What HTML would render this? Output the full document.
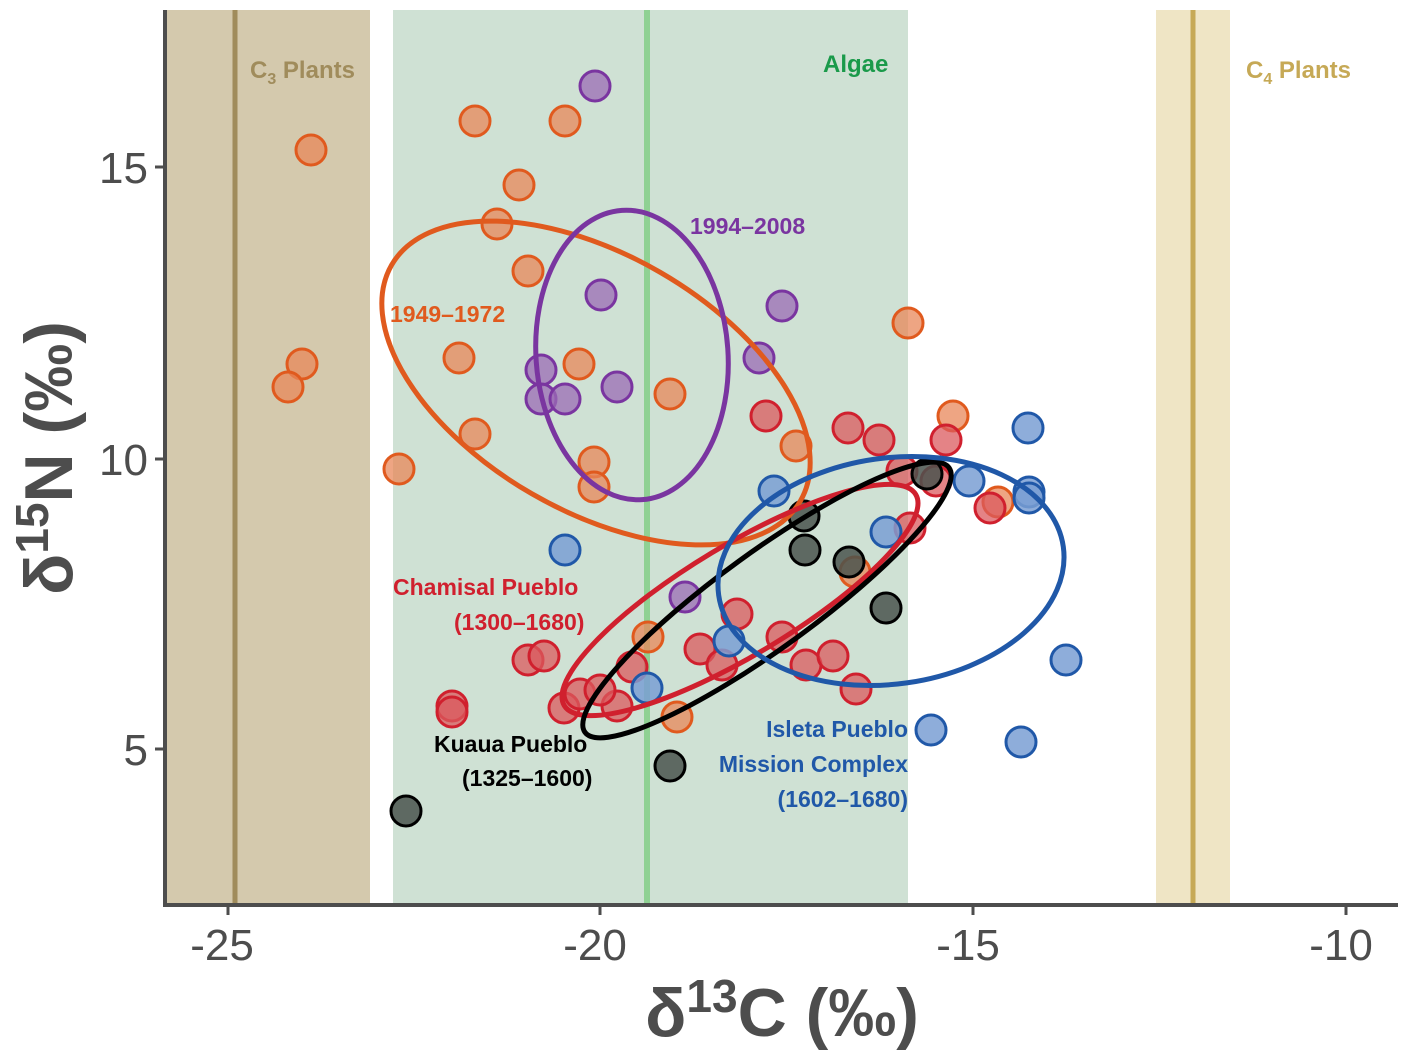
<!DOCTYPE html>
<html><head><meta charset="utf-8"><style>
html,body{margin:0;padding:0;background:#fff;}
svg{display:block;font-family:"Liberation Sans",Arial,sans-serif;}
</style></head><body>
<svg width="1411" height="1062" viewBox="0 0 1411 1062" xmlns="http://www.w3.org/2000/svg">
<rect x="0" y="0" width="1411" height="1062" fill="#fff"/>
<rect x="167" y="10" width="203" height="893" fill="#d4c9ad"/>
<line x1="235" y1="10" x2="235" y2="903" stroke="#a08c5c" stroke-width="5"/>
<rect x="393" y="10" width="515" height="893" fill="#cfe1d4"/>
<line x1="647" y1="10" x2="647" y2="903" stroke="#8fd193" stroke-width="6"/>
<rect x="1156" y="10" width="74" height="893" fill="#efe5c5"/>
<line x1="1193" y1="10" x2="1193" y2="903" stroke="#c6a956" stroke-width="5"/>
<text x="250" y="78" font-size="24" font-weight="bold" fill="#a08c5c">C<tspan font-size="16" dy="6">3</tspan><tspan dy="-6"> Plants</tspan></text>
<text x="823" y="72" font-size="24" font-weight="bold" fill="#1a9a4a">Algae</text>
<text x="1246" y="78" font-size="24" font-weight="bold" fill="#c6a956">C<tspan font-size="16" dy="6">4</tspan><tspan dy="-6"> Plants</tspan></text>

<g stroke-width="3">
<g fill="#e8875a" fill-opacity="0.75" stroke="#e05a1e">
<circle cx="311" cy="150" r="15"/><circle cx="475" cy="121" r="15"/><circle cx="565" cy="121" r="15"/><circle cx="519" cy="185" r="15"/><circle cx="497" cy="224" r="15"/><circle cx="528" cy="271" r="15"/><circle cx="459" cy="358" r="15"/><circle cx="302" cy="364" r="15"/><circle cx="288" cy="387" r="15"/><circle cx="579" cy="364" r="15"/><circle cx="670" cy="394" r="15"/><circle cx="475" cy="434" r="15"/><circle cx="399" cy="469" r="15"/><circle cx="594" cy="462" r="15"/><circle cx="594" cy="487" r="15"/><circle cx="796" cy="446" r="15"/><circle cx="908" cy="323" r="15"/><circle cx="953" cy="416" r="15"/><circle cx="998" cy="502" r="15"/><circle cx="855" cy="572" r="15"/><circle cx="648" cy="637" r="15"/><circle cx="677" cy="717" r="15"/>
</g>
<g fill="#9b6bb5" fill-opacity="0.75" stroke="#7a35a0">
<circle cx="595" cy="86" r="15"/><circle cx="601" cy="295" r="15"/><circle cx="541" cy="370" r="15"/><circle cx="617" cy="387" r="15"/><circle cx="541" cy="399" r="15"/><circle cx="565" cy="399" r="15"/><circle cx="782" cy="306" r="15"/><circle cx="759" cy="358" r="15"/><circle cx="685" cy="597" r="15"/>
</g>
<g fill="#db5a5e" fill-opacity="0.75" stroke="#d0202e">
<circle cx="766" cy="416" r="15"/><circle cx="848" cy="428" r="15"/><circle cx="879" cy="440" r="15"/><circle cx="946" cy="440" r="15"/><circle cx="936" cy="481" r="15"/><circle cx="902" cy="471" r="15"/><circle cx="910" cy="528" r="15"/><circle cx="528" cy="660" r="15"/><circle cx="544" cy="656" r="15"/><circle cx="452" cy="706" r="15"/><circle cx="452" cy="712" r="15"/><circle cx="564" cy="708" r="15"/><circle cx="580" cy="694" r="15"/><circle cx="617" cy="706" r="15"/><circle cx="632" cy="667" r="15"/><circle cx="700" cy="649" r="15"/><circle cx="722" cy="665" r="15"/><circle cx="737" cy="614" r="15"/><circle cx="782" cy="637" r="15"/><circle cx="806" cy="665" r="15"/><circle cx="833" cy="656" r="15"/><circle cx="856" cy="689" r="15"/><circle cx="990" cy="508" r="15"/><circle cx="600" cy="690" r="15"/>
</g>
<g fill="#7a9fd4" fill-opacity="0.85" stroke="#2058a8">
<circle cx="565" cy="550" r="15"/><circle cx="774" cy="491" r="15"/><circle cx="886" cy="532" r="15"/><circle cx="969" cy="481" r="15"/><circle cx="1028" cy="428" r="15"/><circle cx="1029" cy="492" r="15"/><circle cx="1029" cy="498" r="15"/><circle cx="729" cy="641" r="15"/><circle cx="647" cy="688" r="15"/><circle cx="931" cy="730" r="15"/><circle cx="1021" cy="742" r="15"/><circle cx="1066" cy="660" r="15"/>
</g>
<g fill="#4a544e" fill-opacity="0.85" stroke="#000">
<circle cx="406" cy="811" r="15"/><circle cx="670" cy="766" r="15"/><circle cx="804" cy="516" r="15"/><circle cx="805" cy="550" r="15"/><circle cx="849" cy="562" r="15"/><circle cx="886" cy="608" r="15"/><circle cx="927" cy="474" r="15"/>
</g>
</g>

<g fill="none" stroke-width="5">
<ellipse cx="596" cy="383" rx="236" ry="128" transform="rotate(30 596 383)" stroke="#e05a1e"/>
<ellipse cx="632" cy="355" rx="96" ry="145" transform="rotate(-4 632 355)" stroke="#7a35a0"/>
<ellipse cx="740" cy="600" rx="205" ry="55" transform="rotate(-31 740 600)" stroke="#d0202e"/>
<ellipse cx="767" cy="600" rx="225" ry="48" transform="rotate(-36 767 600)" stroke="#000"/>
<ellipse cx="891" cy="571" rx="174" ry="113" transform="rotate(-8 891 571)" stroke="#2058a8"/>
</g>

<g font-size="23" font-weight="bold">
<text x="690" y="234" fill="#7a35a0">1994–2008</text>
<text x="390" y="322" fill="#e05a1e">1949–1972</text>
<text x="393" y="595" fill="#d0202e">Chamisal Pueblo</text>
<text x="454" y="630" fill="#d0202e">(1300–1680)</text>
<text x="434" y="752" fill="#000">Kuaua Pueblo</text>
<text x="462" y="786" fill="#000">(1325–1600)</text>
<text x="908" y="737" fill="#2058a8" text-anchor="end">Isleta Pueblo</text>
<text x="908" y="772" fill="#2058a8" text-anchor="end">Mission Complex</text>
<text x="908" y="807" fill="#2058a8" text-anchor="end">(1602–1680)</text>
</g>

<line x1="165" y1="10" x2="165" y2="905" stroke="#4d4d4d" stroke-width="4"/>
<line x1="163" y1="905" x2="1398" y2="905" stroke="#4d4d4d" stroke-width="4"/>
<g stroke="#4d4d4d" stroke-width="3">
<line x1="155" y1="167" x2="165" y2="167"/><line x1="155" y1="459" x2="165" y2="459"/><line x1="155" y1="749" x2="165" y2="749"/>
<line x1="228" y1="905" x2="228" y2="915"/><line x1="600" y1="905" x2="600" y2="915"/><line x1="973" y1="905" x2="973" y2="915"/><line x1="1346" y1="905" x2="1346" y2="915"/>
</g>
<g font-size="44" fill="#4d4d4d">
<text x="148" y="183" text-anchor="end">15</text>
<text x="148" y="475" text-anchor="end">10</text>
<text x="148" y="765" text-anchor="end">5</text>
<text x="222" y="960" text-anchor="middle">-25</text>
<text x="595" y="960" text-anchor="middle">-20</text>
<text x="968" y="960" text-anchor="middle">-15</text>
<text x="1341" y="960" text-anchor="middle">-10</text>
</g>
<text x="782" y="1036" font-size="68" font-weight="bold" fill="#4d4d4d" text-anchor="middle">δ<tspan font-size="46" dy="-24">13</tspan><tspan dy="24">C (‰)</tspan></text>
<text transform="translate(72 458) rotate(-90)" font-size="68" font-weight="bold" fill="#4d4d4d" text-anchor="middle">δ<tspan font-size="46" dy="-24">15</tspan><tspan dy="24">N (‰)</tspan></text>
</svg>
</body></html>
